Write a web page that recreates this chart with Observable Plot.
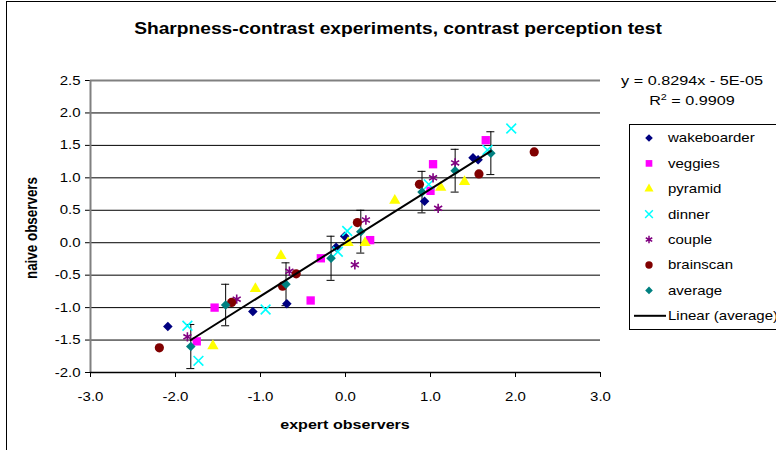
<!DOCTYPE html>
<html><head><meta charset="utf-8">
<script src="https://cdn.jsdelivr.net/npm/d3@7"></script>
<script src="https://cdn.jsdelivr.net/npm/@observablehq/plot@0.6"></script>
<style>body{margin:0;background:#fff}</style>
</head><body><div id="chart"></div>
<script>
const title = "Sharpness-contrast experiments, contrast perception test";
const xLabel = "expert observers";
const yLabel = "naive observers";
const xTicks = [-3, -2, -1, 0, 1, 2, 3];
const yTicks = [-2, -1.5, -1, -0.5, 0, 0.5, 1, 1.5, 2, 2.5];
const seriesNames = ["wakeboarder", "veggies", "pyramid", "dinner", "couple", "brainscan", "average"];

const wakeboarderX = [-2.09, -1.09, -0.69, -0.11, -0.01, 0.93, 1.50, 1.56];
const wakeboarderY = [-1.29, -1.06, -0.94, -0.07, 0.10, 0.64, 1.31, 1.28];
const veggiesX = [-1.75, -1.54, -0.41, -0.29, 0.29, 1.00, 1.03, 1.65];
const veggiesY = [-1.52, -1.00, -0.89, -0.24, 0.04, 0.80, 1.21, 1.58];
const pyramidX = [-1.56, -1.06, -0.76, 0.03, 0.23, 0.58, 1.12, 1.40];
const pyramidY = [-1.59, -0.71, -0.20, 0.00, 0.00, 0.65, 0.85, 0.94];
const dinnerX = [-1.86, -1.73, -0.94, -0.09, 0.02, 0.98, 1.67, 1.95];
const dinnerY = [-1.28, -1.82, -1.03, -0.14, 0.18, 0.90, 1.43, 1.76];
const coupleX = [-1.86, -1.28, -0.66, 0.11, 0.24, 1.03, 1.09, 1.29];
const coupleY = [-1.45, -0.87, -0.44, -0.34, 0.35, 1.00, 0.53, 1.23];
const brainscanX = [-2.19, -1.34, -0.74, -0.58, 0.14, 0.87, 1.57, 2.22];
const brainscanY = [-1.62, -0.92, -0.67, -0.48, 0.31, 0.90, 1.06, 1.40];
const averageX = [-1.82, -1.41, -0.70, -0.17, 0.18, 0.90, 1.29, 1.71];
const averageY = [-1.60, -0.96, -0.64, -0.24, 0.17, 0.78, 1.11, 1.38];
const averageErr = [0.34, 0.32, 0.33, 0.34, 0.33, 0.32, 0.33, 0.33];

const fitEquation = "y = 0.8294x - 5E-05";
const fitR2 = "0.9909";
const trendLabel = "Linear (average)";

const colors = {wakeboarder: "#000080", veggies: "#FF00FF", pyramid: "#FFFF00", dinner: "#00FFFF", couple: "#800080", brainscan: "#800000", average: "#008080"};
const symbols = {wakeboarder: "diamond2", veggies: "square", pyramid: "triangle", dinner: "times", couple: "asterisk", brainscan: "circle", average: "diamond2"};
const d3Symbols = {diamond2: d3.symbolDiamond2, square: d3.symbolSquare, triangle: d3.symbolTriangle, times: d3.symbolTimes, asterisk: d3.symbolAsterisk, circle: d3.symbolCircle};
const radii = {wakeboarder: 4.3, veggies: 4.7, pyramid: 4.2, dinner: 4.5, couple: 4.4, brainscan: 4.6, average: 4.3};
const stroked = new Set(["dinner", "couple"]);

const rows = (xs, ys) => xs.map((x, i) => ({x, y: ys[i]}));
const seriesData = {
  wakeboarder: rows(wakeboarderX, wakeboarderY),
  veggies: rows(veggiesX, veggiesY),
  pyramid: rows(pyramidX, pyramidY),
  dinner: rows(dinnerX, dinnerY),
  couple: rows(coupleX, coupleY),
  brainscan: rows(brainscanX, brainscanY),
  average: rows(averageX, averageY)
};
const averageRows = averageX.map((x, i) => ({x, y: averageY[i], e: averageErr[i]}));

const fmt = d => d.toFixed(1);
const FONT = "'Liberation Sans', Arial, sans-serif";
const K = 1.2; // horizontal stretch of text, as in the reference

const dotMarks = seriesNames.map(name => stroked.has(name)
  ? Plot.dot(seriesData[name], {x: "x", y: "y", symbol: symbols[name], r: radii[name], stroke: colors[name], strokeWidth: 1.6, fill: "none"})
  : Plot.dot(seriesData[name], {x: "x", y: "y", symbol: symbols[name], r: radii[name], fill: colors[name], stroke: "none"}));

const svg = Plot.plot({
  width: 776,
  height: 450,
  marginLeft: 90,
  marginRight: 176,
  marginTop: 80,
  marginBottom: 78,
  style: {fontFamily: FONT, fontSize: "12.5px", background: "#fff", color: "#000"},
  x: {domain: [-3, 3], ticks: xTicks, tickFormat: fmt, tickSize: 5, tickPadding: 15, label: null},
  y: {domain: [-2, 2.5], ticks: yTicks, tickFormat: fmt, tickSize: 5, tickPadding: 5, label: null},
  marks: [
    Plot.ruleY(yTicks, {stroke: "#000", strokeWidth: 1}),
    Plot.ruleY([2.5], {stroke: "#808080", strokeWidth: 2}),
    Plot.ruleX([-3], {stroke: "#808080", strokeWidth: 2}),
    Plot.ruleY([-2], {stroke: "#000", strokeWidth: 1.5}),
    Plot.ruleX(averageRows, {x: "x", y1: d => d.y - d.e, y2: d => d.y + d.e, stroke: "#000", strokeWidth: 1}),
    Plot.ruleY(averageRows, {y: d => d.y - d.e, x1: "x", x2: "x", insetLeft: -4, insetRight: -4, stroke: "#000", strokeWidth: 1}),
    Plot.ruleY(averageRows, {y: d => d.y + d.e, x1: "x", x2: "x", insetLeft: -4, insetRight: -4, stroke: "#000", strokeWidth: 1}),
    ...dotMarks,
    Plot.linearRegressionY(averageRows, {x: "x", y: "y", ci: 0, stroke: "#000", strokeWidth: 2})
  ]
});

// stretch Plot's tick labels horizontally like the reference (scale about each label's own anchor)
d3.select(svg).selectAll("text").each(function() {
  const tf = this.getAttribute("transform") || "";
  const xa = this.getAttribute("x");
  if (xa != null && !/[a-z%]/i.test(xa) && isFinite(parseFloat(xa))) this.setAttribute("x", parseFloat(xa) / K);
  this.setAttribute("transform", `${tf} scale(${K},1)`);
});

const s = d3.select(svg);
function addText(str, x, y, opts = {}) {
  const t = s.append("text")
    .attr("transform", `translate(${x},${y}) ${opts.rotate ? `scale(${K},1) rotate(${opts.rotate})` : `scale(${K},1)`}`)
    .attr("font-family", FONT)
    .attr("font-size", opts.size || 12.5)
    .attr("font-weight", opts.bold ? "bold" : null)
    .attr("text-anchor", opts.anchor || "start")
    .attr("fill", "#000");
  if (opts.dy) t.attr("dy", opts.dy);
  t.text(str);
  return t;
}

// chart area border
s.append("rect").attr("x", 6.5).attr("y", 1.5).attr("width", 800).attr("height", 500)
  .attr("fill", "none").attr("stroke", "#000").attr("stroke-width", 1);

addText(title, 398, 34, {size: 16, bold: true, anchor: "middle"});
addText(xLabel, 345, 429, {size: 13.4, bold: true, anchor: "middle"});
addText(yLabel, 37, 228, {size: 13.4, bold: true, anchor: "middle", rotate: -90});

// trendline equation
addText(fitEquation, 692, 85, {size: 13.5, anchor: "middle"});
const r2 = addText("R", 692, 105, {size: 13.5, anchor: "middle"});
r2.append("tspan").attr("font-size", 9).attr("dy", -5).text("2");
r2.append("tspan").attr("dy", 5).text(" = " + fitR2);

// legend
const lg = s.append("g");
lg.append("rect").attr("x", 629.5).attr("y", 124.5).attr("width", 170).attr("height", 205)
  .attr("fill", "#fff").attr("stroke", "#000").attr("stroke-width", 1);
seriesNames.forEach((name, i) => {
  const cy = 138 + i * 25.4;
  const r = radii[name] * 0.8;
  const p = lg.append("path")
    .attr("d", d3.symbol(d3Symbols[symbols[name]], Math.PI * r * r)())
    .attr("transform", `translate(649,${cy})`);
  if (stroked.has(name)) p.attr("fill", "none").attr("stroke", colors[name]).attr("stroke-width", 1.5);
  else p.attr("fill", colors[name]);
  addText(name, 668, cy, {size: 12.5, dy: "0.35em"});
});
const ly = 138 + 7 * 25.4;
lg.append("line").attr("x1", 634).attr("x2", 666).attr("y1", ly).attr("y2", ly)
  .attr("stroke", "#000").attr("stroke-width", 2);
addText(trendLabel, 668, ly, {size: 12.5, dy: "0.35em"});

document.getElementById("chart").appendChild(svg);
</script>
</body></html>
